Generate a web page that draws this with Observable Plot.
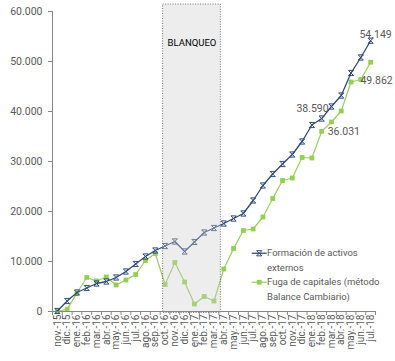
<!DOCTYPE html>
<html><head><meta charset="utf-8">
<script src="https://cdn.jsdelivr.net/npm/d3@7"></script>
<script src="https://cdn.jsdelivr.net/npm/@observablehq/plot@0.6"></script>
<style>
body{margin:0;background:#fff;}
#wrap{position:relative;width:395px;height:361px;font-family:Roboto,"Liberation Sans",sans-serif;}
#legend{position:absolute;left:267px;top:246px;font-size:9.5px;line-height:14.5px;color:#595959;white-space:nowrap;}
#legicons{position:absolute;left:250px;top:246px;}
</style></head><body><div id="wrap"></div>
<script>
const months = ["nov.-15","dic.-15","ene.-16","feb.-16","mar.-16","abr.-16","may.-16","jun.-16","jul.-16","ago.-16","sep.-16",
  "oct.-16","nov.-16","dic.-16","ene.-17","feb.-17","mar.-17","abr.-17","may.-17","jun.-17","jul.-17","ago.-17","sep.-17",
  "oct.-17","nov.-17","dic.-17","ene.-18","feb.-18","mar.-18","abr.-18","may.-18","jun.-18","jul.-18"];
const activos = [100,2100,3800,4700,5600,6000,6800,8000,9500,11000,12200,
  13100,14000,12000,13900,15800,16700,17600,18600,19600,22200,25200,27500,
  29500,31400,34000,37300,38590,41000,43200,47700,50800,54149];
const fuga = [0,470,3700,6800,6100,6900,5300,6300,7400,10200,11600,
  5400,9800,5900,1500,3000,2100,8500,12600,16200,16500,18900,22600,
  26200,26700,30800,30700,36031,37900,40100,45900,46400,49862];
const yTicks = [0,10000,20000,30000,40000,50000,60000];
const labelMonthMid = "feb.-18";
const labelMonthEnd = "jul.-18";
const blanqueoText = "BLANQUEO";
const blanqueoDesde = "oct.-16", blanqueoHasta = "abr.-17";

const fmt = d3.formatLocale({decimal:",",thousands:".",grouping:[3],currency:["$",""]}).format(",d");
const rows = months.map((m,i)=>({i,m,a:activos[i],f:fuga[i]}));
const blue = "#2f4b7c", green = "#92d050", greenLine = "#9acd5e";
const star = {draw(ctx,size){const r=Math.sqrt(size/Math.PI);
  ctx.moveTo(-r,-r);ctx.lineTo(r,r);ctx.moveTo(-r,r);ctx.lineTo(r,-r);
  ctx.moveTo(-r,-r);ctx.lineTo(r,-r);ctx.moveTo(-r,r);ctx.lineTo(r,r);}};
const bq = [{x1: months.indexOf(blanqueoDesde)-0.2, x2: months.indexOf(blanqueoHasta)-0.3}];
const mid = rows.filter(d=>d.m===labelMonthMid);
const end = rows.filter(d=>d.m===labelMonthEnd);
const lab = {fill:"#595959",fontSize:10.5};

const chart = Plot.plot({
  width:395, height:361,
  marginLeft:52, marginRight:20, marginTop:11, marginBottom:50,
  style:{fontFamily:"Roboto, 'Liberation Sans', sans-serif", fontSize:"10px", color:"#595959", background:"#fff"},
  x:{type:"linear", domain:[-0.5, months.length-0.5]},
  y:{domain:[0,60000]},
  marks:[
    Plot.line(rows,{x:"i",y:"f",stroke:greenLine,strokeWidth:1.2}),
    Plot.dot(rows,{x:"i",y:"f",symbol:"square",fill:green,r:2.7}),
    Plot.line(rows,{x:"i",y:"a",stroke:blue,strokeWidth:1.3}),
    Plot.dot(rows,{x:"i",y:"a",symbol:star,stroke:blue,strokeWidth:1,r:2.6}),
    Plot.rect(bq,{x1:"x1",x2:"x2",y1:-300,y2:61400,fill:"#cdcdcd",fillOpacity:0.36,stroke:"#555",strokeWidth:0.8,strokeDasharray:"1,1.5"}),
    Plot.text([blanqueoText],{x:(bq[0].x1+bq[0].x2)/2,y:53800,text:d=>d,fill:"#000",fontSize:9.5,fontWeight:"normal"}),
    Plot.ruleX([-0.5],{y1:0,y2:60000,stroke:"#868686"}),
    Plot.ruleY([0],{stroke:"#868686"}),
    Plot.axisY({ticks:yTicks,tickFormat:fmt,tickSize:4,tickPadding:6,stroke:"#868686",fill:"#595959",fontSize:10.5}),
    Plot.axisX({ticks:d3.range(months.length),tickFormat:i=>months[i],tickSize:0,tickPadding:3,tickRotate:-90,fill:"#595959",fontSize:10}),
    Plot.axisX({ticks:d3.range(-0.5,months.length,1),tickFormat:()=>"",tickSize:4,stroke:"#868686"}),
    Plot.text(mid,{x:"i",y:"a",text:d=>fmt(d.a),textAnchor:"end",dx:7,dy:-10,...lab}),
    Plot.text(end,{x:"i",y:"a",text:d=>fmt(d.a),textAnchor:"middle",dx:5,dy:-6,...lab}),
    Plot.text(mid,{x:"i",y:"f",text:d=>fmt(d.f),textAnchor:"start",dx:6,dy:0,...lab}),
    Plot.text(end,{x:"i",y:"f",text:d=>fmt(d.f),textAnchor:"middle",dx:6,dy:18,...lab})
  ]
});
const wrap = document.getElementById("wrap");
wrap.appendChild(chart);
const leg = document.createElement("div");
leg.id="legend";
leg.innerHTML = "Formación de activos<br>externos<br>Fuga de capitales (método<br>Balance Cambiario)";
wrap.appendChild(leg);
const icons = d3.create("svg").attr("id","legicons").attr("width",18).attr("height",50);
icons.append("line").attr("x1",1.7).attr("x2",16.7).attr("y1",7.25).attr("y2",7.25).attr("stroke",blue).attr("stroke-width",1.3);
icons.append("path").attr("transform","translate(9.2,7.25)").attr("d",d3.symbol(star,2.6*2.6*Math.PI)()).attr("stroke",blue).attr("fill","none");
icons.append("line").attr("x1",1.7).attr("x2",16.7).attr("y1",36.25).attr("y2",36.25).attr("stroke",greenLine).attr("stroke-width",1.2);
icons.append("path").attr("transform","translate(9.2,36.25)").attr("d",d3.symbol(d3.symbolSquare,2.7*2.7*Math.PI)()).attr("fill",green);
wrap.appendChild(icons.node());
</script></body></html>
